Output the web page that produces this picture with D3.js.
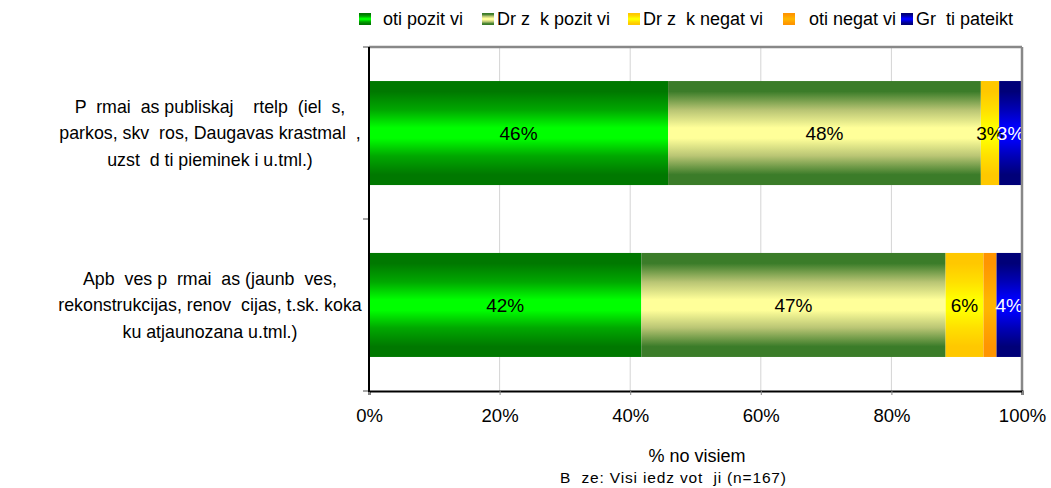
<!DOCTYPE html>
<html><head><meta charset="utf-8">
<script src="https://cdn.jsdelivr.net/npm/d3@7"></script>
<style>body{margin:0;background:#fff}svg{font-family:"Liberation Sans",Arial,sans-serif}</style>
</head><body><svg id="c" width="1051" height="488"></svg>
<script>
const categories = [
  ["P  rmai  as publiskaj    rtelp  (iel  s,", "parkos, skv  ros, Daugavas krastmal  ,", "uzst  d ti pieminek i u.tml.)"],
  ["Apb  ves p  rmai  as (jaunb  ves,", "rekonstrukcijas, renov  cijas, t.sk. koka", "ku atjaunozana u.tml.)"]
];
const seriesNames = ["oti pozit vi", "Dr z  k pozit vi", "Dr z  k negat vi", "oti negat vi", "Gr  ti pateikt"];
const veryPositive   = [45.8, 41.7];
const ratherPositive = [47.9, 46.6];
const ratherNegative = [2.8, 5.8];
const veryNegative   = [0, 2.0];
const hardToSay      = [3.5, 3.9];
const labels = [["46%","48%","3%","","3%"],["42%","47%","6%","","4%"]];
const xTicks = [0, 20, 40, 60, 80, 100];
const xTickLabels = ["0%","20%","40%","60%","80%","100%"];
const axisTitle = "% no visiem";
const baseNote = "B  ze: Visi iedz vot  ji (n=167)";

const series = [veryPositive, ratherPositive, ratherNegative, veryNegative, hardToSay];
const grad = [
  ["#007800","#00a800","#00ff00"],
  ["#3b7c29","#b9c574","#ffff99"],
  ["#ffc800","#ffe000","#ffff00"],
  ["#ff9500","#ffa400","#ffb400"],
  ["#000078","#0000b8","#0000ff"]];
const labelColor = ["#000","#000","#000","#000","#fff"];

const svg = d3.select("#c");
const defs = svg.append("defs");
grad.forEach((g,i)=>{
  const lg = defs.append("linearGradient").attr("id","g"+i).attr("x1",0).attr("y1",0).attr("x2",0).attr("y2",1);
  [[0,0],[0.1,0],[0.28,1],[0.45,2],[0.55,2],[0.72,1],[0.9,0],[1,0]].forEach(([o,c])=>
    lg.append("stop").attr("offset",o).attr("stop-color",g[c]));
});

const L=369, R=1022, T=47, B=391;
const x = d3.scaleLinear().domain([0,100]).range([L,R]);
const y = d3.scaleBand().domain(d3.range(categories.length)).range([T,B]).paddingInner(0.395).paddingOuter(0.198);

// gridlines
svg.append("g").selectAll("line").data(xTicks.filter(t=>t>0&&t<100)).join("line")
  .attr("x1",d=>x(d)).attr("x2",d=>x(d)).attr("y1",T).attr("y2",B)
  .attr("stroke","#d4d4d4").attr("stroke-width",1);

// stacked bars
const stacked = categories.map((c,ci)=>{
  let acc=0; return series.map((s,si)=>{const v=s[ci]; const o={ci,si,x0:acc,x1:acc+v,lab:labels[ci][si]}; acc+=v; return o;});
});
const flat = stacked.flat();
svg.append("g").selectAll("rect").data(flat.filter(d=>d.x1>d.x0)).join("rect")
  .attr("x",d=>x(d.x0)).attr("width",d=>x(d.x1)-x(d.x0))
  .attr("y",d=>y(d.ci)).attr("height",y.bandwidth())
  .attr("fill",d=>`url(#g${d.si})`);

svg.append("g").selectAll("text").data(flat.filter(d=>d.lab)).join("text")
  .attr("x",d=>(x(d.x0)+x(d.x1))/2).attr("y",d=>y(d.ci)+y.bandwidth()/2)
  .attr("dy","0.36em").attr("text-anchor","middle").attr("font-size",19)
  .attr("fill",d=>labelColor[d.si]).text(d=>d.lab);

// frame
svg.append("line").attr("x1",L).attr("x2",R).attr("y1",T).attr("y2",T).attr("stroke","#888").attr("stroke-width",2.5);
svg.append("line").attr("x1",R).attr("x2",R).attr("y1",T).attr("y2",B).attr("stroke","#888").attr("stroke-width",2.5);

// axes
const xa = svg.append("g").attr("transform",`translate(0,${B})`)
  .call(d3.axisBottom(x).tickValues(xTicks).tickFormat((d,i)=>xTickLabels[i]).tickSize(4).tickPadding(14));
xa.select(".domain").attr("stroke","#000").attr("stroke-width",2);
xa.selectAll(".tick line").attr("stroke","#888");
xa.selectAll("text").attr("font-size",18.5).attr("fill","#000").attr("font-family","Liberation Sans, Arial, sans-serif");

const yTickPos = d3.range(categories.length+1).map(i=>T+(B-T)*i/categories.length);
svg.append("g").selectAll("line").data(yTickPos).join("line")
  .attr("x1",L-6).attr("x2",L).attr("y1",d=>d).attr("y2",d=>d).attr("stroke","#888").attr("stroke-width",1.5);
svg.append("line").attr("x1",L).attr("x2",L).attr("y1",T).attr("y2",B+1).attr("stroke","#000").attr("stroke-width",2);

// category labels
categories.forEach((lines,ci)=>{
  const cy = y(ci)+y.bandwidth()/2;
  const t = svg.append("text").attr("text-anchor","middle").attr("font-size",17.8).attr("fill","#000")
    .attr("xml:space","preserve").style("white-space","pre");
  lines.forEach((ln,li)=>{
    t.append("tspan").attr("x",210).attr("y",cy+(li-1)*26.5).attr("dy","0.36em").text(ln);
  });
});

// legend
const legX = [359, 482, 628, 783, 901];
const legTextX = [383, 497, 643, 809, 916];
const lg = svg.append("g");
seriesNames.forEach((n,i)=>{
  lg.append("rect").attr("x",legX[i]).attr("y",13).attr("width",12).attr("height",12).attr("fill",`url(#g${i})`);
  lg.append("text").attr("x",legTextX[i]).attr("y",19).attr("dy","0.36em").attr("font-size",18)
    .attr("xml:space","preserve").style("white-space","pre").text(n);
});

// titles
svg.append("text").attr("x",697).attr("y",456).attr("dy","0.36em").attr("text-anchor","middle").attr("font-size",18).text(axisTitle);
svg.append("text").attr("x",560).attr("y",477).attr("dy","0.36em").attr("font-size",15.5)
  .attr("textLength",226).attr("lengthAdjust","spacing")
  .attr("xml:space","preserve").style("white-space","pre").text(baseNote);
</script></body></html>
